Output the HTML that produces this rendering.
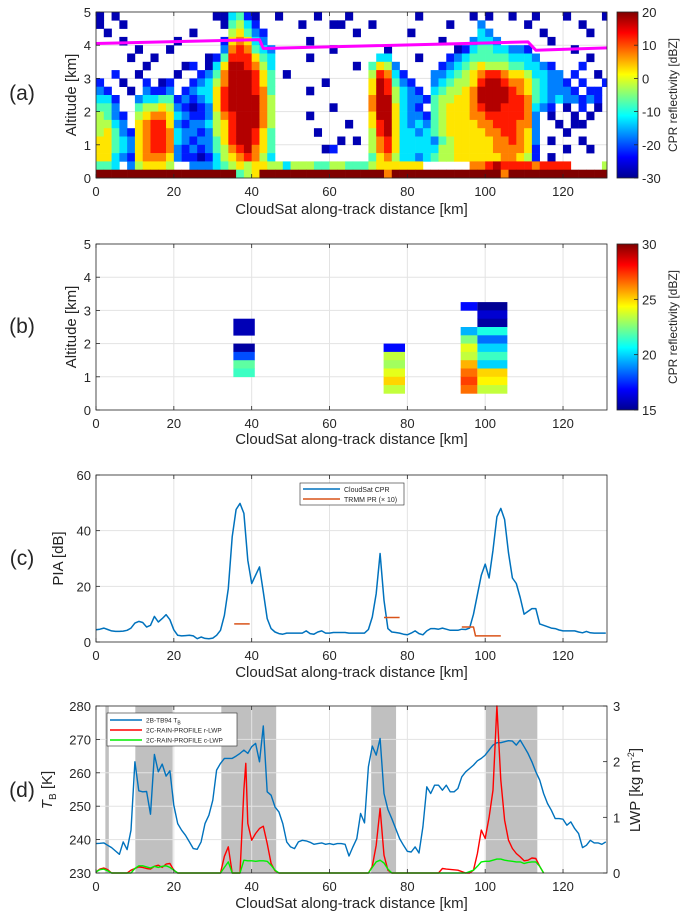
<!DOCTYPE html>
<html><head><meta charset="utf-8">
<style>
html,body{margin:0;padding:0;background:#fff;}
svg{display:block;font-family:"Liberation Sans",sans-serif;}
text{fill:#262626;}
</style></head>
<body>
<svg id="fig" width="686" height="917" viewBox="0 0 686 917" xmlns="http://www.w3.org/2000/svg">
<defs>
<linearGradient id="jetA" x1="0" y1="1" x2="0" y2="0">
<stop offset="0" stop-color="#00008f"/><stop offset="0.125" stop-color="#0000ff"/><stop offset="0.375" stop-color="#00ffff"/><stop offset="0.625" stop-color="#ffff00"/><stop offset="0.875" stop-color="#ff0000"/><stop offset="1" stop-color="#800000"/>
</linearGradient>
</defs>
</svg>
<script>
// ---------- DATA ----------
// Panel (a): reflectivity grid, 2 km columns x 0.25 km rows (top row first).
// '.'=no echo, '0'..'9' = levels (-27.5..17.5 dBZ, 5 dBZ steps), 'R' = surface clutter (>=20 dBZ)
const aGrid = [
"0.0......."+".....00341"+"0..0....0."+"..0......."+".0......0."+"0..0..0..."+"0....0",
"0..0......"+"......0453"+"1.....0..."+"00...0...."+".....0...2"+".....0...."+"..0...",
".0........"+"..0....564"+"21........"+"...0......"+"0........3"+"2......0.."+"...0..",
"...0......"+"0.....1676"+"32.....0.."+".........."+"....0...23"+"32......0."+"......",
".....0...0"+"......2787"+"432......."+"0......0.."+"......0134"+"433221...."+".0....",
"....0..0.."+"....014888"+"643....0.."+"......33.."+".0...12344"+"4443332..."+"...0..",
"......0..."+".01.036998"+"753......."+"...0.4652."+"....123456"+"555443321."+"..1...",
"..1..0...."+"0..1247999"+"864.0....."+".....58731"+"...2234567"+"8876653322"+".1..0.",
"1..0..1.01"+"..12357999"+"864......0"+".....69842"+"1..2345568"+"9987764322"+"1.1..1",
"21..0.2112"+".123368999"+"874....0.."+".....69853"+"21.3455679"+"9998764322"+"21.11.",
"331..23344"+"1212368999"+"975......."+".....79953"+"2214556679"+"9998874323"+"22121.",
"442..45565"+"2101268999"+"975......."+"0....79963"+"21.4566678"+"998887321."+"0.1.0.",
"5421.56776"+"3211257899"+"975....0.."+".....69963"+"2214566677"+"8888872.0."+".0.0..",
"5532.67886"+"2122356899"+"975......."+"..0..68963"+"2324566667"+"7888772..0"+".00...",
"5642167887"+"3221256899"+"864.....0."+".....58963"+"3234566666"+"7788762..."+"0.....",
"6643267887"+"3212246899"+"864......."+".0.0.57863"+"3332456666"+"6778762.0."+"..0...",
"6643267887"+"2121245789"+"764......0"+"1....57863"+"3333556666"+"6777761..."+"0..0..",
"6632167776"+"2110135678"+"753......."+".....46753"+"3234556666"+"6677651.0."+"......",
"443.256665"+"..22234565"+"6655355544"+"5544456666"+"66......77"+"8988887888"+"8....5",
"RRRRRRRRRR"+"RRRRRRRR45"+"6RRRRRRRRR"+"RRRRRRR7RR"+"RRRRRRRRRR"+"RR7RRRRRRR"+"RRRRRR"
];
const aColKm = 2, aRowKm = 0.25;
// freezing level (magenta) line points
const frzKm  = [0, 42, 43, 111, 113, 131.3];
const frzAlt = [4.05, 4.17, 3.9, 4.1, 3.85, 3.92];

// Panel (b): PR reflectivity blocks
const bX0  = [35.3,35.3,35.3,35.3,35.3, 73.9,73.9,73.9,73.9,73.9,73.9, 93.7,93.7,93.7,93.7,93.7,93.7,93.7,93.7,93.7, 98,98,98,98,98,98,98,98,98,98,98];
const bX1  = [40.8,40.8,40.8,40.8,40.8, 79.4,79.4,79.4,79.4,79.4,79.4, 98,98,98,98,98,98,98,98,98, 105.7,105.7,105.7,105.7,105.7,105.7,105.7,105.7,105.7,105.7,105.7];
const bLo  = [2.25,1.75,1.5,1.25,1.0, 1.75,1.5,1.25,1.0,0.75,0.5, 3.0,2.25,2.0,1.75,1.5,1.25,1.0,0.75,0.5, 3.0,2.75,2.5,2.25,2.0,1.75,1.5,1.25,1.0,0.75,0.5];
const bHi  = [2.75,2.0,1.75,1.5,1.25, 2.0,1.75,1.5,1.25,1.0,0.75, 3.25,2.5,2.25,2.0,1.75,1.5,1.25,1.0,0.75, 3.25,3.0,2.75,2.5,2.25,2.0,1.75,1.5,1.25,1.0,0.75];
const bDbz = [15.8,15.5,18,22,21.5, 17,23.5,23,24,25,23.5, 17,19.5,22.5,24,23.5,25.5,26.5,27.2,26.5, 15.3,16.2,15.5,21,18.5,20,21.5,20,25,24.5,23.5];

// Panel (c): PIA
const piaKm = [0,1,2,3,4,5,6,7,8,9,10,11,12,13,14,15,16,17,18,19,20,21,22,23,24,25,26,27,28,29,30,31,32,33,34,35,36,37,38,39,40,41,42,43,44,45,46,47,48,49,50,51,52,53,54,55,56,57,58,59,60,61,62,63,64,65,66,67,68,69,70,71,72,73,74,75,76,77,78,79,80,81,82,83,84,85,86,87,88,89,90,91,92,93,94,95,96,97,98,99,100,101,102,103,104,105,106,107,108,109,110,111,112,113,114,115,116,117,118,119,120,121,122,123,124,125,126,127,128,129,130,131];
const piaCpr = [4.4,4.6,5,4.5,4,3.8,3.8,3.9,4.2,5,6.8,7.4,7,5.4,6,9.2,7.2,8.4,9.8,8,4.4,2.4,2.2,2.3,2.4,2.2,1.2,1.8,1.3,1.2,1.4,2.4,4.2,9.6,19.2,37.8,47.6,49.8,46.2,29.4,21,24,27,18,8.4,4.8,3.6,3,2.8,3.2,3.2,3.2,3.2,3.2,4,3,2.8,3.6,4,3.2,3.2,3.4,3.4,3.4,3.4,3.2,3.2,3.2,3.2,3.2,4.5,9,17.4,31.8,15,4.8,3.6,3.4,3.2,2.8,2.6,3.2,4,3,2.6,4,4.8,4.8,4.6,5,4.6,4.2,4.2,4.2,4.6,4.5,5,10,17,24,28,23,33,45,48,44,32,23,21,16,10,11,12,12,6.5,6,5.5,5,4.8,4.3,4,4,4,4,3.6,3.3,3.8,3.3,3.2,3.2,3.2,3.2];
const prKm  = [[35.5,39.5],[74,78],[94,97,97.5,104]];
const prPia = [[6.5,6.5],[8.8,8.8],[5.4,5.4,2.2,2.2]];

// Panel (d): TB and LWP
const tbKm = piaKm;
const tb = [238.8,238.9,239,238.3,237.6,236.6,235.6,239.3,237,242.8,263.3,254.6,254.3,254.4,247.6,265.5,260.3,262.6,259,260.6,250.3,244.8,242.8,241.3,239.3,237.3,237.1,239.3,244.8,247.3,251.8,260.8,262.8,264.3,264.3,264.3,265,265.8,266.8,265.8,267.8,268.8,263.3,274,254.3,253.3,249.8,248.3,244.8,239.3,237.8,237.3,239.3,239.8,239.6,239.2,238.6,238.8,239,238.6,238.8,238.5,238.8,238.8,238.6,235.1,237.8,240.3,247.8,245,261.8,268,265.3,270.3,253.8,249,246.3,243.3,240.3,238.3,236.5,236.3,237.8,236,243.8,255.8,253.8,256.3,256.3,254.8,256.3,254.3,254.3,255.3,258.8,260.3,261.3,262.3,263.6,264.3,265.3,266.8,268.3,269,269,269.3,269.6,269.5,268.3,269.8,267.8,265.8,263.3,260.3,257.8,253.8,250.8,248.8,246.3,246.3,246.1,244.3,245.3,243.3,241.8,237.6,238.3,239.8,239,239,238.6,239.3];
const rlwpKm = [0,1,2,3,4,8,9,10,11,12,13,14,15,16,17,18,19,20,21,32,33,34,35,36,37,38,38.5,39,40,41,42,43,44,45,46,47,70,71,72,73,74,75,76,88,89,90,93,95,96,97,98,99,100,101,102,103,104,105,106,107,108,109,110,111,112,113,114,115];
const rlwp   = [0.02,0.07,0.09,0.06,0,0,0.05,0.08,0.11,0.1,0.08,0.07,0.12,0.14,0.1,0.16,0.17,0.05,0,0,0.3,0.47,0,0,0,1.5,1.97,0.89,0.59,0.71,0.8,0.84,0.53,0.17,0.04,0,0,0.12,0.5,1.16,0.32,0.05,0,0,0.08,0.07,0.05,0,0,0.05,0.35,0.77,0.62,1.0,1.49,3.0,1.67,0.95,0.59,0.44,0.35,0.29,0.22,0.23,0.27,0.26,0.12,0];
const clwpKm = [0,1,2,3,4,9,10,11,12,13,14,15,16,17,18,19,20,21,32,33,34,35,37,38,39,40,41,42,43,44,45,46,47,70,71,72,73,74,75,76,95,97,98,99,100,101,102,103,104,105,106,107,108,109,110,111,112,113,114,115];
const clwp   = [0.02,0.06,0.07,0.04,0,0,0.08,0.13,0.13,0.11,0.09,0.12,0.1,0.12,0.13,0.1,0.05,0,0,0.1,0.2,0,0,0.23,0.22,0.22,0.21,0.22,0.22,0.21,0.14,0.05,0,0,0.1,0.2,0.23,0.18,0.07,0,0,0.05,0.12,0.2,0.21,0.21,0.23,0.25,0.25,0.23,0.22,0.21,0.2,0.2,0.17,0.19,0.2,0.2,0.12,0];
const shadeStart = [2.4,10.1,32.2,70.7,100.2];
const shadeEnd   = [3.3,19.7,46.3,77.1,113.4];

const xTicks = [0,20,40,60,80,100,120];
const altTicks = [0,1,2,3,4,5];
const cbA = [-30,-20,-10,0,10,20];
const cbB = [15,20,25,30];
const piaTicks = [0,20,40,60];
const tbTicks = [230,240,250,260,270,280];
const lwpTicks = [0,1,2,3];

// ---------- HELPERS ----------
const NS = "http://www.w3.org/2000/svg";
const svg = document.getElementById('fig');
function mk(tag, attrs, parent){ const e=document.createElementNS(NS,tag); for(const k in attrs) e.setAttribute(k,attrs[k]); (parent||svg).appendChild(e); return e; }
function jet(t){ t=Math.max(0,Math.min(1,t)); const c=v=>Math.round(255*Math.max(0,Math.min(1,v)));
  return 'rgb('+c(1.5-Math.abs(4*t-3))+','+c(1.5-Math.abs(4*t-2))+','+c(1.5-Math.abs(4*t-1))+')'; }
const X0=96, X1=607, XMAX=131.3;
function sxF(){ return v => X0 + v/XMAX*(X1-X0); }
function syF(y0,y1,lo,hi){ return v => y1 - (v-lo)/(hi-lo)*(y1-y0); }

function frame(name, y0, y1, sy, yt, sx, gridOn){
  const g = mk('g',{});
  
  
  if(gridOn){
    xTicks.forEach(t=>{ const l=mk('line',{x1:sx(t),x2:sx(t),y1:y0,y2:y1,stroke:'#e3e3e3','stroke-width':1},g);
        });
    yt.forEach(t=>{ const l=mk('line',{x1:X0,x2:X1,y1:sy(t),y2:sy(t),stroke:'#e3e3e3','stroke-width':1},g);
        });
  }
  return g;
}
function axesBox(name, y0, y1, sy, yt, sx, xlabels, xtitleY){
  const g = mk('g',{});
  
  
  const r = mk('rect',{x:X0,y:y0,width:X1-X0,height:y1-y0,fill:'none',stroke:'#262626','stroke-width':0.8},g);
   
  xTicks.forEach(t=>{
    mk('line',{x1:sx(t),x2:sx(t),y1:y1,y2:y1-4,stroke:'#262626','stroke-width':0.8},g);
    mk('line',{x1:sx(t),x2:sx(t),y1:y0,y2:y0+4,stroke:'#262626','stroke-width':0.8},g);
    const tx = mk('text',{x:sx(t),y:y1+18,'font-size':13,'text-anchor':'middle'},g); tx.textContent=t;
     
  });
  yt.forEach(t=>{
    mk('line',{x1:X0,x2:X0+4,y1:sy(t),y2:sy(t),stroke:'#262626','stroke-width':0.8},g);
    const tx = mk('text',{x:X0-5,y:sy(t)+5,'font-size':13,'text-anchor':'end'},g); tx.textContent=t;
     
  });
  if(xtitleY){
    const tt = mk('text',{x:(X0+X1)/2,y:xtitleY,'font-size':15,'text-anchor':'middle'},g);
    tt.textContent='CloudSat along-track distance [km]';
     
  }
}
function ytitle(txt, x, y, size){
  const t = mk('text',{x:x,y:y,'font-size':size||15,'text-anchor':'middle',transform:'rotate(-90 '+x+' '+y+')'});
  t.textContent = txt;
   
  return t;
}
function plabel(txt, y){
  const t = mk('text',{x:22,y:y,'font-size':21,'text-anchor':'middle'});
  t.textContent = txt;
   
}
function colorbar(y0,y1,ticks,title){
  const r = mk('rect',{x:617,y:y0,width:21,height:y1-y0,fill:'url(#jetA)',stroke:'#262626','stroke-width':0.8});
   
  const lo=ticks[0], hi=ticks[ticks.length-1];
  ticks.forEach(t=>{ const y = y1-(t-lo)/(hi-lo)*(y1-y0);
    mk('line',{x1:634,x2:638,y1:y,y2:y,stroke:'#262626','stroke-width':0.8});
    const tx=mk('text',{x:642,y:y+5,'font-size':13},svg); tx.textContent=t;
      });
  const t = ytitle(title, 677, (y0+y1)/2, 12);
  
}
function polyline(xs, ys, sx, sy, color, w, name){
  const pts = xs.map((x,i)=>sx(x).toFixed(1)+','+sy(ys[i]).toFixed(1)).join(' ');
  const p = mk('polyline',{points:pts,fill:'none',stroke:color,'stroke-width':w,'stroke-linejoin':'round'});
   
  return p;
}

// ---------- PANEL (a) ----------
(function(){
  const y0=12,y1=178, sx=sxF(), sy=syF(y0,y1,0,5);
  frame('panel-a-grid',y0,y1,sy,altTicks,sx,true);
  const g = mk('g',{});
   
  const nRows = aGrid.length;
  aGrid.forEach((row,ri)=>{
    const altTop = (nRows-ri)*aRowKm;
    for(let ci=0; ci<row.length; ci++){
      const ch=row[ci]; if(ch==='.') continue;
      let col;
      if(ch==='R') col='#800000'; else { const v=-30+(+ch+0.5)*5; col=jet((v+30)/50); }
      const k0=ci*aColKm, k1=Math.min(XMAX,(ci+1)*aColKm);
      const c = mk('rect',{x:sx(k0),y:sy(altTop),width:sx(k1)-sx(k0)+0.3,height:sy(altTop-aRowKm)-sy(altTop)+0.3,fill:col},g);
       
    }
  });
  polyline(frzKm, frzAlt, sx, sy, '#ff00ff', 3, 'freezing-level-line');
  axesBox('panel-a-axes',y0,y1,sy,altTicks,sx,true,214);
  ytitle('Altitude [km]', 76, (y0+y1)/2);
  plabel('(a)', 100);
  colorbar(y0,y1,cbA,'CPR reflectivity [dBZ]');
})();

// ---------- PANEL (b) ----------
(function(){
  const y0=244,y1=410, sx=sxF(), sy=syF(y0,y1,0,5);
  frame('panel-b-grid',y0,y1,sy,altTicks,sx,true);
  const g = mk('g',{});
   
  bDbz.forEach((v,i)=>{
    const c = mk('rect',{x:sx(bX0[i]),y:sy(bHi[i]),width:sx(bX1[i])-sx(bX0[i]),height:sy(bLo[i])-sy(bHi[i])+0.3,fill:jet((v-15)/15)},g);
     
  });
  axesBox('panel-b-axes',y0,y1,sy,altTicks,sx,true,444);
  ytitle('Altitude [km]', 76, (y0+y1)/2);
  plabel('(b)', 333);
  colorbar(y0,y1,cbB,'CPR reflectivity [dBZ]');
})();

// ---------- PANEL (c) ----------
(function(){
  const y0=475,y1=642, sx=sxF(), sy=syF(y0,y1,0,60);
  frame('panel-c-grid',y0,y1,sy,piaTicks,sx,true);
  polyline(piaKm, piaCpr, sx, sy, '#0072bd', 1.5, 'cloudsat-pia-line');
  prKm.forEach((xs,i)=>polyline(xs, prPia[i], sx, sy, '#d95319', 1.5, 'trmm-pia-segment'));
  axesBox('panel-c-axes',y0,y1,sy,piaTicks,sx,true,677);
  ytitle('PIA [dB]', 63, (y0+y1)/2);
  plabel('(c)', 565);
  const lg = mk('g',{});
   
  mk('rect',{x:300,y:483,width:104,height:22,fill:'#fff',stroke:'#262626','stroke-width':0.6},lg);
  mk('line',{x1:303,x2:340,y1:489,y2:489,stroke:'#0072bd','stroke-width':1.5},lg);
  mk('line',{x1:303,x2:340,y1:499,y2:499,stroke:'#d95319','stroke-width':1.5},lg);
  const t1=mk('text',{x:344,y:492,'font-size':7},lg); t1.textContent='CloudSat CPR';
   
  const t2=mk('text',{x:344,y:502,'font-size':7},lg); t2.textContent='TRMM PR (\u00d7 10)';
   
})();

// ---------- PANEL (d) ----------
(function(){
  const y0=706,y1=873, sx=sxF(), sy=syF(y0,y1,230,280), sy2=syF(y0,y1,0,3);
  shadeStart.forEach((s,i)=>{
    const r = mk('rect',{x:sx(s),y:y0,width:sx(shadeEnd[i])-sx(s),height:y1-y0,fill:'#c0c0c0'});
     
  });
  frame('panel-d-grid',y0,y1,sy,tbTicks,sx,true);
  polyline(tbKm, tb, sx, sy, '#0072bd', 1.4, 'tb-line');
  polyline(rlwpKm, rlwp, sx, sy2, '#ff0000', 1.4, 'rain-lwp-line');
  polyline(clwpKm, clwp, sx, sy2, '#00ee00', 1.4, 'cloud-lwp-line');
  axesBox('panel-d-axes',y0,y1,sy,tbTicks,sx,true,908);
  lwpTicks.forEach(t=>{
    mk('line',{x1:X1,x2:X1-4,y1:sy2(t),y2:sy2(t),stroke:'#262626','stroke-width':0.8});
    const tx=mk('text',{x:X1+6,y:sy2(t)+5,'font-size':13}); tx.textContent=t;
     
  });
  const yt = mk('text',{x:52,y:790,'font-size':15,'text-anchor':'middle',transform:'rotate(-90 52 790)'});
  yt.innerHTML = '<tspan font-style="italic">T</tspan><tspan font-size="10" dy="4">B</tspan><tspan dy="-4"> [K]</tspan>';
   
  const yr = mk('text',{x:640,y:790,'font-size':15,'text-anchor':'middle',transform:'rotate(-90 640 790)'});
  yr.innerHTML = 'LWP [kg m<tspan font-size="9" dy="-6">-2</tspan><tspan dy="6">]</tspan>';
   
  plabel('(d)', 797);
  const lg = mk('g',{});
   
  mk('rect',{x:107,y:713,width:130,height:33,fill:'#fff',stroke:'#262626','stroke-width':0.6},lg);
  const cols=['#0072bd','#ff0000','#00ee00'];
  const labs=['2B-TB94 T','2C-RAIN-PROFILE r-LWP','2C-RAIN-PROFILE c-LWP'];
  cols.forEach((c,i)=>{
    const y=720+i*10;
    mk('line',{x1:110,x2:142,y1:y,y2:y,stroke:c,'stroke-width':1.5},lg);
    const t=mk('text',{x:146,y:y+2.5,'font-size':6.5},lg);
    t.textContent=labs[i];
     
    if(i===0){ const s=mk('tspan',{'font-size':5,dy:2},t); s.textContent='B'; }
  });
})();
</script>
</body></html>
